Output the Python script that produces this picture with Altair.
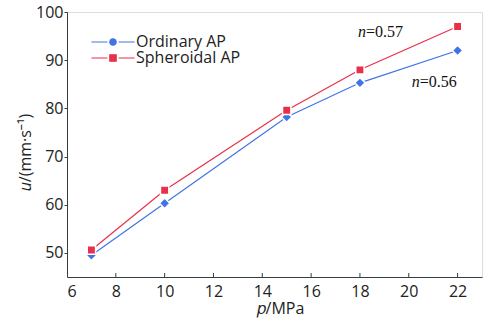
import altair as alt
import pandas as pd

pressure = [7, 10, 15, 18, 22]
ordinary = [49.5, 60.3, 78.2, 85.3, 92.0]
spheroidal = [50.6, 63.0, 79.6, 88.0, 97.0]
series = ["Ordinary AP", "Spheroidal AP"]
colors = ["#3f74e8", "#e8304a"]
x_ticks = [6, 8, 10, 12, 14, 16, 18, 20, 22]
y_ticks = [50, 60, 70, 80, 90, 100]

ann_x = [18.25, 20.45]
ann_y = [95.9, 85.5]
ann_n = ["n", "n"]
ann_rest = ["=0.57", "=0.56"]

df = pd.DataFrame({
    "p": pressure * 2,
    "u": ordinary + spheroidal,
    "s": [series[0]] * len(pressure) + [series[1]] * len(pressure),
})
ann = pd.DataFrame({"x": ann_x, "y": ann_y, "n": ann_n, "rest": ann_rest})
ticks_df = pd.DataFrame({"t": x_ticks[1:]})

AX = "#34403f"
FONT = "Open Sans"

xs = alt.Scale(domain=[6, 23], nice=False, zero=False)
ys = alt.Scale(domain=[45, 100], nice=False, zero=False)

x_enc = alt.X("p:Q", scale=xs, axis=alt.Axis(
    values=x_ticks, title="𝑝/MPa", ticks=False, grid=False,
    labelPadding=6, titlePadding=1, titleX=213,
    domainColor=AX, labelFont=FONT, labelFontSize=16, labelColor="#222",
    titleFont=FONT, titleFontSize=16, titleFontWeight="normal", titleColor="#222"))
y_enc = alt.Y("u:Q", scale=ys, axis=alt.Axis(
    values=y_ticks, title="𝑢/(mm·s⁻¹)", ticks=True, tickSize=3, tickColor=AX,
    grid=False, labelPadding=1, titlePadding=2, titleY=140, titleAlign="center",
    domainColor=AX, labelFont=FONT, labelFontSize=16, labelColor="#222",
    titleFont=FONT, titleFontSize=16, titleFontWeight="normal", titleColor="#222"))

cscale = alt.Scale(domain=series, range=colors)

diamond = "M-1.25,0L0,-1.25L1.25,0L0,1.25Z"

lines = alt.Chart(df).mark_line(strokeWidth=1.2).encode(
    x=x_enc, y=y_enc,
    color=alt.Color("s:N", scale=cscale, legend=None),
)

points = alt.Chart(df).mark_point(filled=True, size=70, stroke="white", strokeWidth=1.5, opacity=1).encode(
    x="p:Q", y="u:Q",
    color=alt.Color("s:N", scale=cscale, legend=None),
    shape=alt.Shape("s:N", scale=alt.Scale(domain=series, range=[diamond, "square"]), legend=None),
)

path_ord = "M-5.4,0H-1.4M1.4,0H5.4M0.8,0A0.8,0.8 0 1,1 -0.8,0A0.8,0.8 0 1,1 0.8,0Z"
path_sph = "M-5.4,0H-1.4M1.4,0H5.4M-0.8,-0.8H0.8V0.8H-0.8Z"

leg = alt.Legend(
    title=None, orient="none", legendX=38, legendY=22, padding=0,
    labelFont=FONT, labelFontSize=16, labelColor="#222", labelOffset=15,
    symbolStrokeWidth=1.2, symbolSize=64, symbolOpacity=1, rowPadding=0,
)

legend_layer = alt.Chart(df).mark_point(filled=True, size=64, opacity=0).encode(
    x="p:Q", y="u:Q",
    color=alt.Color("s:N", scale=cscale, legend=leg),
    stroke=alt.Stroke("s:N", scale=cscale, legend=leg),
    shape=alt.Shape("s:N", scale=alt.Scale(domain=series, range=[path_ord, path_sph]), legend=leg),
)

tick_layer = alt.Chart(ticks_df).mark_rule(color=AX, strokeWidth=1).encode(
    x=alt.X("t:Q", scale=xs), y=alt.value(265), y2=alt.value(261))

ann_n_layer = alt.Chart(ann).mark_text(
    font="Liberation Serif", fontSize=16, fontStyle="italic", align="right", baseline="middle", color="#111"
).encode(x=alt.X("x:Q", scale=xs), y=alt.Y("y:Q", scale=ys), text="n:N")
ann_rest_layer = alt.Chart(ann).mark_text(
    font="Liberation Serif", fontSize=16, align="left", baseline="middle", color="#111"
).encode(x=alt.X("x:Q", scale=xs), y=alt.Y("y:Q", scale=ys), text="rest:N")

chart = alt.layer(
    lines, points, legend_layer, tick_layer, ann_n_layer, ann_rest_layer
).resolve_scale(color="independent", shape="independent", stroke="independent").properties(
    width=415, height=265,
    autosize=alt.AutoSizeParams(type="none"),
    padding={"left": 67, "top": 12, "right": 6, "bottom": 46},
).configure_view(stroke=AX, strokeWidth=1.2).configure(background="white")

chart.save("out.html", embed_options={"renderer": "svg", "actions": False})
